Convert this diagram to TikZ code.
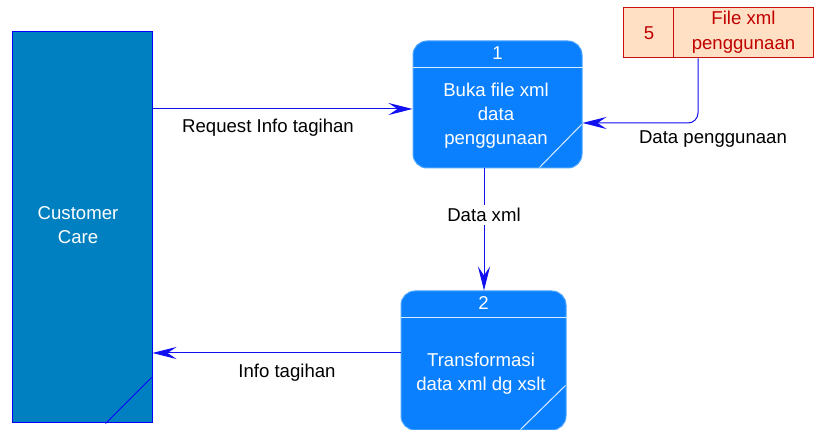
\documentclass[tikz,border=0pt]{standalone}
\usepackage{fontspec}
\setmainfont{Liberation Sans}
\usetikzlibrary{arrows.meta,calc}
\definecolor{procfill}{HTML}{0A80FF}
\definecolor{procline}{HTML}{4DA6FF}
\definecolor{extfill}{HTML}{0080C0}
\definecolor{storefill}{HTML}{FFE0C4}
\definecolor{storeline}{HTML}{CC1010}
\definecolor{storetext}{HTML}{C00000}
\definecolor{flowblue}{HTML}{1010F0}
\begin{document}
\begin{tikzpicture}[x=1pt,y=-1pt,
  every node/.style={font=\fontsize{18.6}{24}\selectfont, inner sep=0pt},
  extbox/.style={draw=blue, line width=1pt, fill=extfill},
  procbox/.style={draw=procline, line width=1pt, fill=procfill, rounded corners=14pt},
  storebox/.style={draw=storeline, line width=1pt, fill=storefill},
  wtext/.style={text=white, align=center},
  rtext/.style={text=storetext, align=center},
  sep/.style={draw=white!85!procfill, line width=1pt},
  flow/.style={draw=flowblue, line width=1pt,
    -{Stealth[length=24pt, width=12pt, inset=9pt]}},
  flowlabel/.style={text=black, align=center}]
\useasboundingbox (0,0) rectangle (815,430);
\clip (0,0) rectangle (815,430);

% external entity
\node[extbox, minimum width=140pt, minimum height=391pt] (cc) at (82,227.5) {};
\node[wtext] (cct) at (78,225.5) {Customer\\Care};
\draw[blue, line width=1pt] ($(cc.south east)+(-1,-46)$) -- ($(cc.south east)+(-47,0)$);

% process 1
\node[procbox, minimum width=169pt, minimum height=127pt] (p1) at (497.5,104.5) {};
\coordinate (h1) at (0,68);
\draw[sep] (p1.west |- h1) -- (p1.east |- h1);
\node[wtext] (p1n) at (497.5,53) {1};
\node[wtext] (p1t) at (496,116) {Buka file xml\\data\\penggunaan};
\draw[sep] ($(p1.south east)+(-1,-44)$) -- ($(p1.south east)+(-43,-1)$);

% process 2
\node[procbox, minimum width=165pt, minimum height=139pt] (p2) at (483.5,360.5) {};
\coordinate (h2) at (0,318);
\draw[sep] (p2.west |- h2) -- (p2.east |- h2);
\node[wtext] (p2n) at (483.5,303) {2};
\node[wtext] (p2t) at (481,373.5) {Transformasi\\data xml dg xslt};
\draw[sep] ($(p2.south east)+(-1,-45)$) -- ($(p2.south east)+(-46,-1)$);

% data store
\node[storebox, minimum width=190pt, minimum height=50pt] (ds) at (718,33) {};
\draw[storeline, line width=1pt] ($(ds.north west)+(51,0)$) -- ($(ds.south west)+(51,0)$);
\node[rtext] (dsn) at (649,33) {5};
\node[rtext, font=\fontsize{18.6}{25}\selectfont] (dst) at (743.5,32.5) {File xml\\penggunaan};

% data flows
\coordinate (r1) at (0,109);
\draw[flow] (cc.east |- r1) -- (p1.west |- r1);
\node[flowlabel] (l1) at (268,128) {Request Info tagihan};

\coordinate (dp) at (698,123);
\draw[flow, rounded corners=10pt] (ds.south -| dp) |- (p1.east |- dp);
\node[flowlabel] (l2) at (713,139) {Data penggunaan};

\coordinate (dx) at (484,0);
\draw[flow] (p1.south -| dx) -- (p2.north -| dx);
\node[flowlabel, fill=white, inner ysep=3pt] (l3) at (484,215) {Data xml};

\coordinate (r2) at (0,353);
\draw[flow] (p2.west |- r2) -- (cc.east |- r2);
\node[flowlabel] (l4) at (287,373) {Info tagihan};
\end{tikzpicture}
\end{document}
